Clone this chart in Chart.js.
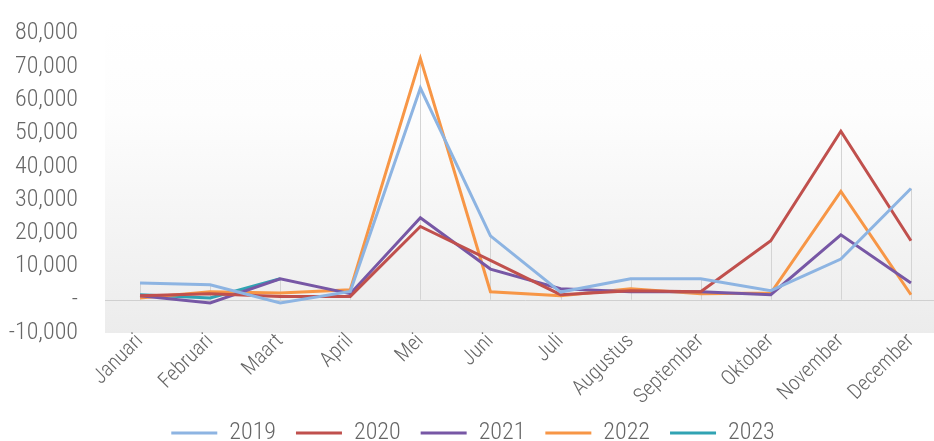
<!DOCTYPE html>
<html>
<head>
<meta charset="utf-8">
<script src="https://cdn.jsdelivr.net/npm/chart.js@4"></script>
<style>
  html, body { margin: 0; padding: 0; background: #fff; overflow: hidden; }
  #wrap { width: 946px; height: 455px; }
</style>
</head>
<body>
<div id="wrap"><canvas id="lineChart"></canvas></div>
<script>
const months = ['Januari', 'Februari', 'Maart', 'April', 'Mei', 'Juni', 'Juli', 'Augustus', 'September', 'Oktober', 'November', 'December'];
const data2019 = [5000, 4500, -1000, 2500, 63600, 19200, 2300, 6300, 6300, 2700, 12200, 33400];
const data2020 = [1200, 1800, 1000, 1000, 22000, 11800, 1500, 2700, 2400, 17700, 50600, 17700];
const data2021 = [1200, -1000, 6300, 1800, 24600, 9200, 3300, 2400, 2400, 1500, 19500, 5000];
const data2022 = [500, 2400, 2000, 3000, 72500, 2400, 1200, 3300, 1800, 2000, 32500, 1500];
const data2023 = [1500, 500, 6300, null, null, null, null, null, null, null, null, null];
const yTicks = [-10000, 0, 10000, 20000, 30000, 40000, 50000, 60000, 70000, 80000];

const labelFont = "'Roboto Condensed', 'Liberation Sans', sans-serif";

// background gradient + zero line + drop lines, drawn before the axes and series
const backdrop = {
    id: 'backdrop',
    afterLayout(chart) {
        // month labels overlap the plot a little, so don't clip them to the axis box
        chart.scales.x._computeLabelArea = () => undefined;
    },
    beforeDraw(chart) {
        const { ctx, chartArea, scales } = chart;
        const x = scales.x, y = scales.y;
        const top = chartArea.top - 14;
        ctx.save();
        const grad = ctx.createLinearGradient(0, top, 0, chartArea.bottom);
        grad.addColorStop(0, '#ffffff');
        grad.addColorStop(0.3, '#fdfdfd');
        grad.addColorStop(1, '#ececec');
        ctx.fillStyle = grad;
        ctx.fillRect(chartArea.left, top, chartArea.right - chartArea.left, chartArea.bottom - top);
        // drop lines from highest value down to zero
        const zero = y.getPixelForValue(0);
        ctx.strokeStyle = '#d4d4d4';
        ctx.lineWidth = 1;
        months.forEach((m, i) => {
            const vals = chart.data.datasets.map(d => d.data[i]).filter(v => v !== null);
            const maxV = Math.max(...vals);
            if (maxV <= 0) return;
            const px = Math.round(x.getPixelForValue(i)) + 0.5;
            ctx.beginPath();
            ctx.moveTo(px, y.getPixelForValue(maxV));
            ctx.lineTo(px, zero);
            ctx.stroke();
        });
        ctx.strokeStyle = '#d0d0d0';
        ctx.beginPath();
        ctx.moveTo(chartArea.left, Math.round(zero) + 0.5);
        ctx.lineTo(chartArea.right, Math.round(zero) + 0.5);
        ctx.stroke();
        ctx.restore();
    }
};

function series(label, values, color) {
    return {
        label: label,
        data: values,
        borderColor: color,
        backgroundColor: color,
        borderWidth: 3,
        pointRadius: 0,
        tension: 0,
        spanGaps: false
    };
}

const ctx = document.getElementById('lineChart').getContext('2d');
new Chart(ctx, {
    type: 'line',
    data: {
        labels: months,
        datasets: [
            series('2019', data2019, '#8db4e2'),
            series('2020', data2020, '#c0504d'),
            series('2021', data2021, '#7757a5'),
            series('2022', data2022, '#f79646'),
            series('2023', data2023, '#31a3b3')
        ]
    },
    options: {
        responsive: true,
        maintainAspectRatio: false,
        animation: false,
        layout: { padding: { top: 2, bottom: 0, left: 0, right: 0 } },
        plugins: {
            legend: {
                position: 'bottom',
                labels: {
                    boxWidth: 46,
                    boxHeight: 3,
                    padding: 20,
                    color: '#666666',
                    font: { family: labelFont, size: 24, weight: '300' },
                    generateLabels(chart) {
                        const items = Chart.defaults.plugins.legend.labels.generateLabels(chart);
                        items.forEach(item => { item.lineWidth = 0; });
                        return items;
                    }
                }
            },
            tooltip: { enabled: false }
        },
        scales: {
            x: {
                offset: true,
                grid: { display: false },
                border: { display: false },
                afterFit(axis) {
                    axis.height = 68;
                },
                ticks: {
                    color: '#666666',
                    maxRotation: 45,
                    minRotation: 45,
                    padding: -12,
                    font: { family: labelFont, size: 21, weight: '300' }
                }
            },
            y: {
                min: -10000,
                max: 80000,
                afterBuildTicks(axis) {
                    axis.ticks = yTicks.map(v => ({ value: v }));
                },
                afterFit(axis) {
                    axis.width = 105;
                },
                grid: { display: false },
                border: { display: false },
                ticks: {
                    color: '#666666',
                    padding: 19,
                    font: { family: labelFont, size: 24, weight: '300' },
                    callback: v => v === 0 ? '-' : v.toLocaleString('en-US')
                }
            }
        }
    },
    plugins: [backdrop]
});
</script>
</body>
</html>
